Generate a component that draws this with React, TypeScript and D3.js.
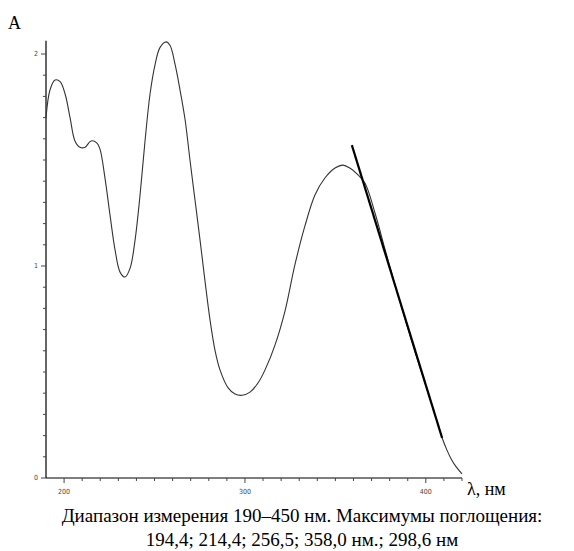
import React, { useEffect, useRef } from 'react';
import * as d3 from 'd3';

// spectrum (nm, absorbance)
const wavelength = [190, 192.2, 195, 197.8, 200.6, 203.3, 206, 208.8, 211.6, 214.9, 218.2, 219.9, 222.7, 225.4, 228.2, 231, 233.7, 236.5, 239.2, 242, 244.8, 247.5, 250.3, 253, 256.4, 258.6, 261.4, 264.1, 266.9, 269.6, 272.4, 275.2, 277.9, 280.7, 283.5, 286.2, 290.7, 294.5, 298.4, 302.8, 307.2, 311.1, 316.6, 322.2, 327.6, 333.2, 338.7, 344.2, 349.8, 354.2, 358, 362.5, 366.4, 371.9, 377.4, 383, 388.5, 394, 399.6, 405.1, 409, 411.5, 414, 417, 420];
const absorbance = [1.70, 1.83, 1.877, 1.87, 1.81, 1.70, 1.59, 1.56, 1.56, 1.59, 1.58, 1.55, 1.41, 1.24, 1.075, 0.97, 0.948, 0.99, 1.12, 1.335, 1.594, 1.81, 1.95, 2.03, 2.057, 2.04, 1.95, 1.83, 1.69, 1.50, 1.31, 1.12, 0.93, 0.745, 0.60, 0.51, 0.425, 0.396, 0.39, 0.405, 0.448, 0.51, 0.627, 0.79, 1.005, 1.19, 1.335, 1.415, 1.462, 1.476, 1.462, 1.43, 1.39, 1.25, 1.08, 0.91, 0.75, 0.595, 0.445, 0.298, 0.19, 0.135, 0.09, 0.05, 0.02];

// tangent drawn on the long-wave slope
const tangentX = [359.1, 409];
const tangentY = [1.57, 0.189];

const xMajor = [200, 300, 400];
const yMajor = [0, 1, 2];

const captionLines = [
  'Диапазон измерения 190–450 нм. Максимумы поглощения:',
  '194,4; 214,4; 256,5; 358,0 нм.; 298,6 нм',
];

export default function App() {
  const svgRef = useRef<SVGSVGElement>(null);
  const width = 574;
  const height = 551;

  useEffect(() => {
    const svg = d3.select(svgRef.current);
    svg.selectAll('*').remove();

    const x = d3.scaleLinear().domain([190, 420]).range([46, 462]);
    const y = d3.scaleLinear().domain([0, 2]).range([478, 54]);

    const tickFont = "'DejaVu Sans Condensed', 'DejaVu Sans', sans-serif";

    // y axis
    const yAxis = svg.append('g').attr('transform', `translate(${x(190)},0)`);
    yAxis.append('line')
      .attr('y1', y(2.063)).attr('y2', y(0))
      .attr('stroke', '#000').attr('stroke-width', 1.2);
    d3.range(0, 21).forEach(i => {
      const v = i / 10;
      const major = i % 10 === 0;
      yAxis.append('line')
        .attr('x1', major ? -5 : -3).attr('x2', 0)
        .attr('y1', y(v)).attr('y2', y(v))
        .attr('stroke', '#444').attr('stroke-width', 1);
    });
    yMajor.forEach(v => {
      yAxis.append('text')
        .attr('x', -8).attr('y', y(v))
        .attr('text-anchor', 'end').attr('dominant-baseline', 'middle')
        .attr('font-family', tickFont).attr('font-size', 7).attr('fill', '#444')
        .text(v);
    });

    // x axis
    const xAxis = svg.append('g').attr('transform', `translate(0,${y(0)})`);
    xAxis.append('line')
      .attr('x1', x(190)).attr('x2', x(420))
      .attr('stroke', '#000').attr('stroke-width', 1.2);
    d3.range(200, 421, 10).forEach(v => {
      const major = v % 100 === 0;
      xAxis.append('line')
        .attr('x1', x(v)).attr('x2', x(v))
        .attr('y1', 0).attr('y2', major ? 5 : 3)
        .attr('stroke', '#444').attr('stroke-width', 1);
    });
    xMajor.forEach(v => {
      xAxis.append('text')
        .attr('x', x(v)).attr('y', 16)
        .attr('text-anchor', 'middle')
        .attr('font-family', tickFont).attr('font-size', 7).attr('fill', '#444')
        .text(v);
    });

    // spectrum
    const line = d3.line<number>()
      .x((_, i) => x(wavelength[i]))
      .y(d => y(d))
      .curve(d3.curveCatmullRom);
    svg.append('path')
      .attr('d', line(absorbance))
      .attr('fill', 'none')
      .attr('stroke', '#333')
      .attr('stroke-width', 1.1);

    // tangent
    svg.append('line')
      .attr('x1', x(tangentX[0])).attr('y1', y(tangentY[0]))
      .attr('x2', x(tangentX[1])).attr('y2', y(tangentY[1]))
      .attr('stroke', '#000').attr('stroke-width', 2.2);

    // labels
    const serif = "'Liberation Serif', 'Times New Roman', serif";
    svg.append('text')
      .attr('x', 8).attr('y', 29)
      .attr('font-family', serif).attr('font-size', 18).attr('fill', '#000')
      .text('A');
    svg.append('text')
      .attr('x', 467).attr('y', 495)
      .attr('font-family', serif).attr('font-size', 18).attr('fill', '#000')
      .text('λ, нм');
    captionLines.forEach((t, i) => {
      svg.append('text')
        .attr('x', 302).attr('y', 522 + i * 24)
        .attr('text-anchor', 'middle')
        .attr('font-family', serif).attr('font-size', 19).attr('fill', '#000')
        .text(t);
    });
  }, []);

  return (
    <svg
      ref={svgRef}
      width={width}
      height={height}
      style={{ position: 'absolute', left: 0, top: 0, background: '#fff' }}
    />
  );
}
